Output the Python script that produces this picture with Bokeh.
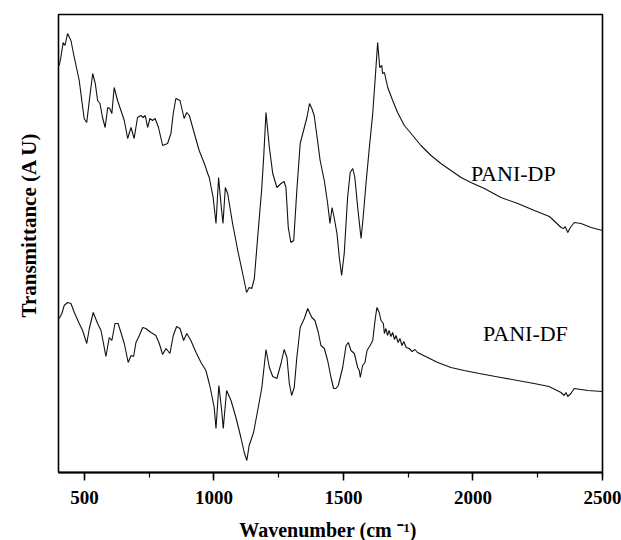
from bokeh.plotting import figure
from bokeh.models import Range1d, Label, Title, SingleIntervalTicker
from bokeh.embed import file_html
from bokeh.resources import INLINE

# PANI-DP spectrum (wavenumber, transmittance in arbitrary units)
dp_wn = [403, 409, 418, 425, 435, 448, 461, 480, 499, 509,
         519, 532, 542, 551, 560, 570, 580, 590, 598, 606,
         615, 628, 641, 654, 667, 680, 692, 705, 718, 727,
         735, 744, 753, 763, 773, 786, 802, 821, 834, 843,
         853, 869, 885, 895, 905, 918, 943, 963, 976, 982,
         997, 1008, 1018, 1027, 1035, 1044, 1053, 1072, 1092, 1115,
         1126, 1136, 1146, 1156, 1171, 1184, 1192, 1201, 1214, 1227,
         1243, 1259, 1271, 1278, 1287, 1297, 1308, 1320, 1333, 1349,
         1359, 1369, 1378, 1387, 1400, 1410, 1426, 1439, 1448, 1456,
         1464, 1475, 1484, 1493, 1503, 1516, 1526, 1536, 1544, 1555,
         1568, 1576, 1587, 1600, 1613, 1622, 1632, 1640, 1648, 1651,
         1658, 1671, 1690, 1709, 1735, 1761, 1799, 1838, 1876, 1915,
         1954, 1992, 2044, 2108, 2173, 2237, 2295, 2320, 2340, 2350,
         2356, 2366, 2376, 2391, 2417, 2456, 2500]
dp_t = [407, 415, 430, 427, 439, 432, 415, 392, 354, 350,
        372, 399, 389, 372, 369, 355, 345, 365, 364, 359,
        385, 372, 362, 352, 334, 345, 334, 355, 357, 355,
        357, 345, 354, 352, 354, 345, 327, 329, 339, 359,
        374, 372, 354, 360, 357, 345, 322, 309, 299, 295,
        275, 249, 295, 269, 249, 285, 279, 249, 222, 194,
        180, 185, 184, 194, 242, 282, 315, 360, 325, 299,
        285, 289, 291, 285, 245, 230, 232, 282, 329, 345,
        355, 369, 364, 357, 332, 312, 292, 269, 249, 265,
        255, 239, 215, 197, 219, 275, 300, 304, 295, 265,
        234, 255, 289, 325, 359, 392, 430, 405, 407, 399,
        400, 385, 372, 360, 347, 339, 327, 317, 309, 302,
        295, 290, 284, 275, 269, 262, 256, 250, 245, 244,
        246, 240, 245, 250, 249, 245, 242]

# PANI-DF spectrum
df_wn = [403, 413, 422, 435, 448, 461, 480, 493, 509, 519,
         534, 551, 564, 573, 583, 596, 606, 618, 630, 641,
         654, 669, 680, 690, 699, 712, 725, 737, 757, 776,
         789, 802, 815, 830, 843, 856, 869, 883, 895, 911,
         931, 950, 969, 982, 988, 1001, 1008, 1019, 1030, 1036,
         1049, 1066, 1085, 1104, 1117, 1127, 1136, 1153, 1171, 1185,
         1201, 1214, 1227, 1243, 1259, 1271, 1282, 1291, 1300, 1310,
         1320, 1333, 1349, 1362, 1378, 1390, 1403, 1413, 1426, 1439,
         1452, 1462, 1471, 1480, 1497, 1510, 1519, 1529, 1542, 1555,
         1561, 1565, 1574, 1583, 1591, 1603, 1613, 1622, 1629, 1638,
         1645, 1654, 1658, 1664, 1670, 1676, 1683, 1690, 1697, 1703,
         1711, 1718, 1726, 1733, 1742, 1754, 1765, 1776, 1786, 1825,
         1864, 1915, 1966, 2024, 2108, 2236, 2293, 2340, 2352, 2359,
         2366, 2378, 2391, 2443, 2500]
df_t = [154, 159, 167, 170, 169, 160, 149, 142, 129, 144,
        160, 149, 142, 130, 116, 135, 132, 149, 149, 140,
        129, 110, 117, 116, 130, 137, 145, 144, 140, 137,
        129, 118, 124, 119, 137, 146, 144, 132, 139, 132,
        120, 110, 102, 89, 82, 65, 44, 87, 62, 44,
        82, 72, 55, 35, 20, 12, 27, 40, 65, 85,
        123, 105, 96, 94, 109, 123, 115, 89, 77, 85,
        115, 145, 154, 164, 155, 152, 140, 127, 124, 112,
        95, 84, 84, 87, 105, 127, 130, 122, 119, 105,
        102, 95, 107, 110, 122, 127, 132, 152, 165, 160,
        152, 149, 139, 144, 137, 142, 136, 140, 133, 137,
        130, 134, 127, 131, 125, 124, 121, 123, 120, 115,
        110, 105, 102, 99, 95, 89, 86, 80, 77, 80,
        76, 79, 84, 82, 81]

x_ticks_interval = 500
series_names = ["PANI-DP", "PANI-DF"]
y_title = "Transmittance (A U)"
x_title = "Wavenumber  (cm \u207b\u00b9)"

SERIF = "Liberation Serif"

p = figure(frame_width=544, frame_height=458,
           min_border_left=58, min_border_right=19,
           min_border_top=14, min_border_bottom=68,
           x_range=Range1d(400, 2500), y_range=Range1d(0, 458),
           y_axis_location=None,
           output_backend="svg", toolbar_location=None,
           background_fill_color="white", border_fill_color="white")

p.line(dp_wn, dp_t, line_color="#111111", line_width=1.1)
p.line(df_wn, df_t, line_color="#111111", line_width=1.1)

p.xgrid.visible = False
p.ygrid.visible = False
p.outline_line_color = "black"
p.outline_line_width = 1.6
p.outline_line_alpha = 1.0

ax = p.xaxis[0]
ax.ticker = SingleIntervalTicker(interval=x_ticks_interval, num_minor_ticks=2)
ax.axis_line_width = 2
ax.axis_line_color = "black"
ax.major_tick_line_color = "black"
ax.major_tick_line_width = 1.5
ax.major_tick_in = 0
ax.major_tick_out = 8
ax.minor_tick_line_color = "black"
ax.minor_tick_line_width = 1.2
ax.minor_tick_in = 0
ax.minor_tick_out = 5
ax.major_label_standoff = 10
ax.major_label_text_font = SERIF
ax.major_label_text_font_style = "bold"
ax.major_label_text_font_size = "19px"
ax.major_label_text_color = "black"
ax.axis_label = x_title
ax.axis_label_standoff = 12
ax.axis_label_text_font = SERIF
ax.axis_label_text_font_style = "bold"
ax.axis_label_text_font_size = "20px"
ax.axis_label_text_color = "black"

# rotated y-axis title in the left border
p.add_layout(Title(text=y_title, align="left", offset=155,
                   vertical_align="top", standoff=31,
                   text_font=SERIF, text_font_style="bold",
                   text_font_size="21px", text_color="black"), "left")

p.add_layout(Label(x=1992, y=299, text=series_names[0], text_font=SERIF,
                   text_font_size="22px", text_baseline="middle",
                   text_color="black"))
p.add_layout(Label(x=2039, y=139, text=series_names[1], text_font=SERIF,
                   text_font_size="22px", text_baseline="middle",
                   text_color="black"))

open("out.html", "w").write(file_html(p, INLINE))
